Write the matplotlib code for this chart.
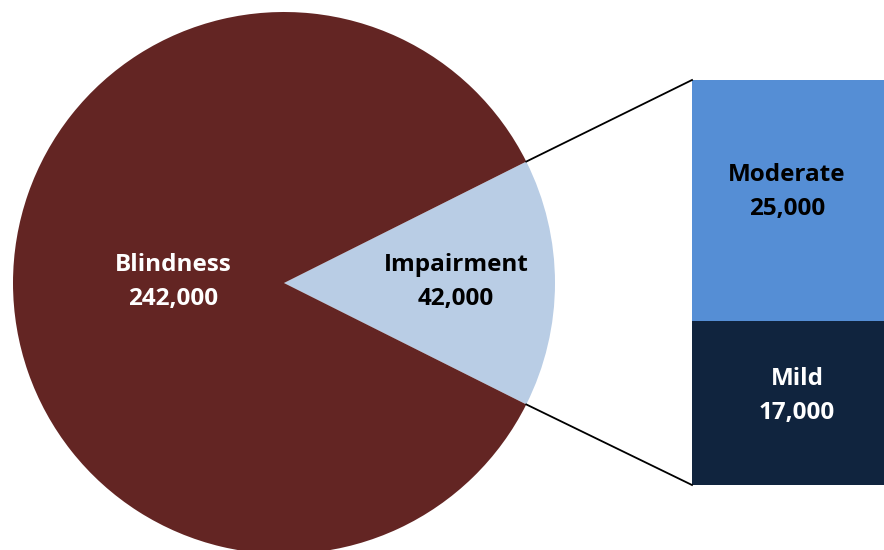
import numpy as np
import matplotlib
matplotlib.use("Agg")
import matplotlib.pyplot as plt

pie_labels = ["Impairment", "Blindness"]
pie_values = [42000, 242000]
pie_colors = ["#b9cde5", "#632523"]

bar_labels = ["Mild", "Moderate"]
bar_values = [17000, 25000]
bar_colors = ["#10243e", "#558ed5"]

W, H = 884, 550
fig = plt.figure(figsize=(W / 100, H / 100), dpi=100)
ax = fig.add_axes([0, 0, 1, 1])
ax.set_xlim(0, W)
ax.set_ylim(0, H)
ax.set_aspect("equal")
ax.axis("off")

font = dict(family=["Open Sans", "DejaVu Sans"], fontweight="bold", fontsize=17.5,
            ha="center", va="center", linespacing=1.55)

cx, cy, r = 284, 550 - 283, 271
half = 180 * pie_values[0] / sum(pie_values)
ax.pie(pie_values, colors=pie_colors, startangle=-half, radius=r,
       center=(cx, cy), frame=True, wedgeprops=dict(linewidth=0))
ax.set_xlim(0, W)
ax.set_ylim(0, H)
ax.axis("off")

# pie labels
ax.text(cx - 0.41 * r, cy + 1, f"{pie_labels[1]}\n{pie_values[1]:,}", color="white", **font)
ax.text(cx + 0.635 * r, cy + 1, f"{pie_labels[0]}\n{pie_values[0]:,}", color="black", **font)

# bar of pie
bx0, bx1 = 692, 900
by0 = 550 - 485
scale = 405 / sum(bar_values)
bottom = by0
for lab, v, c in zip(bar_labels, bar_values, bar_colors):
    ax.bar((bx0 + bx1) / 2, v * scale, width=bx1 - bx0, bottom=bottom,
           color=c, linewidth=0)
    bottom += v * scale
top = bottom

# labels on bar
ax.text(797, 550 - 396, f"{bar_labels[0]}\n{bar_values[0]:,}", color="white", **font)
ax.text(787, 550 - 192, f"{bar_labels[1]}\n{bar_values[1]:,}", color="black", **font)

# connector lines
a = np.deg2rad(half)
ax.plot([cx + r * np.cos(a), bx0], [cy + r * np.sin(a), top], color="black", lw=1.3)
ax.plot([cx + r * np.cos(-a), bx0], [cy + r * np.sin(-a), by0], color="black", lw=1.3)

fig.savefig("out.png", dpi=100)
